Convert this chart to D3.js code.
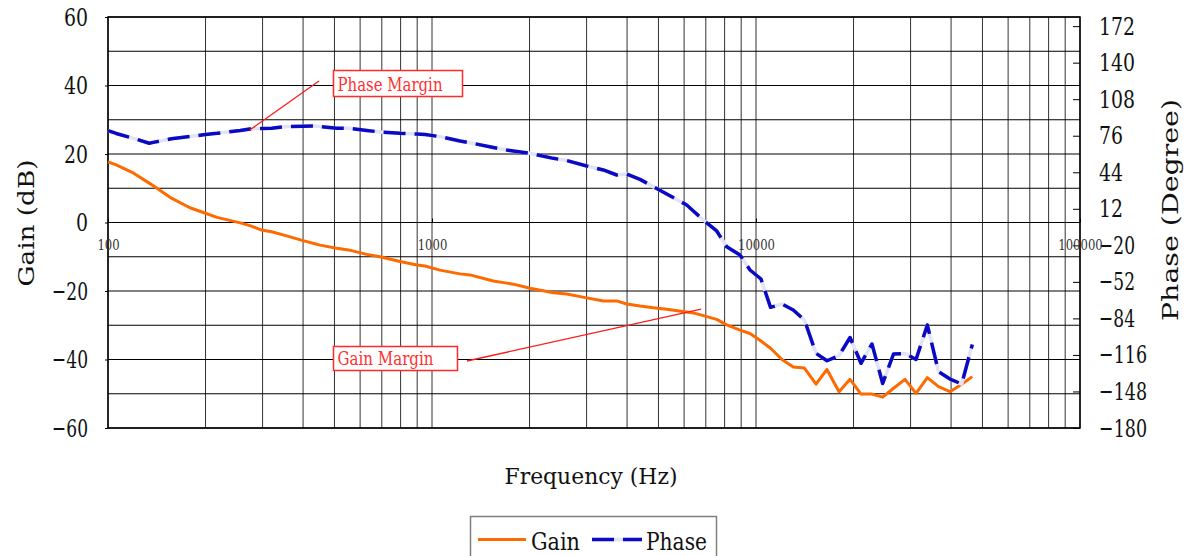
<!DOCTYPE html>
<html>
<head>
<meta charset="utf-8">
<script src="https://cdn.jsdelivr.net/npm/d3@7"></script>
<style>
  html, body { margin: 0; padding: 0; background: #fff; }
  svg { display: block; }
  text { font-family: "DejaVu Serif", "Liberation Serif", "Times New Roman", serif; }
</style>
</head>
<body>
<svg id="chart" width="1186" height="556"></svg>
<script>
// Measured frequency response: frequency (Hz), loop gain (dB), phase (degrees)
const freqHz = [100, 106, 120, 134, 138, 157, 179, 200, 217, 256, 274, 298, 320, 356, 400, 435, 451, 508, 552, 629,
  691, 797, 897, 952, 1058, 1220, 1310, 1546, 1701, 1782, 2007, 2368, 2605, 3003, 3379, 3716, 3990, 4385, 4819, 5302,
  6112, 6406, 6877, 7562, 8120, 8926, 9583, 10360, 11090, 12030, 13030, 14110, 15320, 16560, 18040, 19510, 21090,
  22800, 24600, 26570, 28840, 31180, 33790, 36590, 39700, 43140, 46520];

const gainDb = [17.7, 16.8, 14.4, 11.5, 10.7, 7.1, 4.3, 2.7, 1.5, -0.1, -0.9, -2.2, -2.7, -3.9, -5.3, -6.2, -6.6, -7.5, -8.0, -9.3,
  -10.0, -11.4, -12.4, -12.7, -13.9, -15.0, -15.3, -17.1, -17.7, -18.0, -19.2, -20.5, -20.9, -22.0, -22.9, -22.9, -23.8, -24.4, -24.9, -25.3,
  -26.1, -26.4, -27.2, -28.3, -29.9, -31.4, -32.4, -34.6, -36.7, -40.0, -42.2, -42.5, -47.2, -42.9, -49.4, -45.8, -50.1,
  -50.1, -51.0, -48.4, -45.8, -49.9, -45.3, -47.9, -49.4, -47.2, -45.0];

const phaseDeg = [80.4, 78.0, 73.7, 69.4, 70.2, 73.3, 75.3, 77.1, 78.1, 80.6, 81.9, 82.3, 82.5, 84.1, 84.3, 84.5, 84.1, 82.5, 82.5, 80.6,
  79.3, 78.1, 77.5, 77.1, 75.2, 71.4, 69.9, 65.7, 63.5, 62.6, 60.6, 56.2, 54.3, 49.5, 46.0, 41.6, 42.5, 37.8, 31.4, 25.0,
  15.3, 10.1, 2.2, -7.4, -21.2, -28.5, -41.6, -49.5, -74.3, -71.4, -76.6, -85.4, -114.6, -121.1, -116.5, -100.7, -123.3,
  -106.4, -141.0, -115.2, -114.7, -120.0, -89.8, -130.7, -137.1, -141.5, -106.9];

// Axis ticks
const gainTicks = [-60, -40, -20, 0, 20, 40, 60];
const phaseTicks = [-180, -148, -116, -84, -52, -20, 12, 44, 76, 108, 140, 172];
const freqTickLabels = [100, 1000, 10000, 100000];

// Annotation anchors on the curves
const phaseMarginAt = { f: 274, v: 81 };
const gainMarginAt = { f: 6770, v: -25.3 };

const FONT = '"DejaVu Serif", "Liberation Serif", "Times New Roman", serif';

const svg = d3.select("#chart");
const W = 1186, H = 556;
const plot = { left: 108, right: 1080, top: 17, bottom: 428 };

svg.append("rect").attr("width", W).attr("height", H).attr("fill", "#fff");

const x = d3.scaleLog().domain([100, 100000]).range([plot.left, plot.right]);
const yG = d3.scaleLinear().domain([-60, 60]).range([plot.bottom, plot.top]);
const yP = d3.scaleLinear().domain([-180, 180]).range([plot.bottom, plot.top]);

// Grid
const grid = svg.append("g").attr("stroke", "#000").attr("stroke-width", 1);
grid.selectAll("line.v").data(x.ticks()).join("line")
  .attr("x1", d => x(d)).attr("x2", d => x(d))
  .attr("y1", plot.top).attr("y2", plot.bottom)
  .attr("stroke", "#333");
grid.selectAll("line.h").data(d3.range(-60, 61, 10)).join("line")
  .attr("x1", plot.left).attr("x2", plot.right)
  .attr("y1", d => yG(d)).attr("y2", d => yG(d));

svg.append("rect")
  .attr("x", plot.left).attr("y", plot.top)
  .attr("width", plot.right - plot.left).attr("height", plot.bottom - plot.top)
  .attr("fill", "none").attr("stroke", "#000").attr("stroke-width", 1.5);

// Squeeze tick labels so that each digit is about half an em wide
function fitText(sel, perChar) {
  sel.each(function () {
    const t = d3.select(this);
    const n = t.text().length;
    t.attr("textLength", n * perChar).attr("lengthAdjust", "spacingAndGlyphs");
  });
}

// Left axis (gain)
const axL = svg.append("g").attr("transform", `translate(${plot.left},0)`)
  .call(d3.axisLeft(yG).tickValues(gainTicks).tickSize(3).tickPadding(17));
axL.select(".domain").remove();
axL.selectAll("text").attr("font-size", 25).attr("fill", "#111").style("font-family", FONT);
fitText(axL.selectAll("text"), 12);

// Right axis (phase), ticks pointing inward
const axR = svg.append("g").attr("transform", `translate(${plot.right},0)`)
  .call(d3.axisRight(yP).tickValues(phaseTicks).tickSize(-7).tickPadding(19));
axR.select(".domain").remove();
axR.selectAll("line").attr("stroke", "#000");
axR.selectAll("text").attr("font-size", 25).attr("fill", "#111").style("font-family", FONT);
fitText(axR.selectAll("text"), 12);

// Frequency axis labels along the 0 dB line
const axB = svg.append("g").attr("transform", `translate(0,${yG(0)})`)
  .call(d3.axisBottom(x).tickValues(freqTickLabels).tickFormat(d3.format("d")).tickSize(-4).tickPadding(17));
axB.select(".domain").remove();
axB.selectAll("text").attr("font-size", 15).attr("fill", "#333").style("font-family", FONT);
fitText(axB.selectAll("text"), 7.4);

// Axis titles
svg.append("text").attr("x", 591).attr("y", 484)
  .attr("text-anchor", "middle").attr("font-size", 23).attr("fill", "#111")
  .attr("textLength", 173).attr("lengthAdjust", "spacingAndGlyphs")
  .text("Frequency (Hz)");
svg.append("text").attr("transform", "translate(34,223) rotate(-90)")
  .attr("text-anchor", "middle").attr("font-size", 23).attr("fill", "#111")
  .attr("textLength", 127).attr("lengthAdjust", "spacingAndGlyphs")
  .text("Gain (dB)");
svg.append("text").attr("transform", "translate(1178,210) rotate(-90)")
  .attr("text-anchor", "middle").attr("font-size", 23).attr("fill", "#111")
  .attr("textLength", 222).attr("lengthAdjust", "spacingAndGlyphs")
  .text("Phase (Degree)");

// Curves
const pts = freqHz.map((f, i) => ({ f, g: gainDb[i], p: phaseDeg[i] }));
const gainLine = d3.line().x(d => x(d.f)).y(d => yG(d.g));
const phaseLine = d3.line().x(d => x(d.f)).y(d => yP(d.p));

const PHASE_DARK = "#0a0ac4", PHASE_LIGHT = "#e2e2f8", GAIN_COLOR = "#ff6a00";
const DASH = "22,9";

svg.append("path").datum(pts).attr("d", gainLine)
  .attr("fill", "none").attr("stroke", GAIN_COLOR).attr("stroke-width", 3)
  .attr("stroke-linejoin", "round");

svg.append("path").datum(pts).attr("d", phaseLine)
  .attr("fill", "none").attr("stroke", PHASE_LIGHT).attr("stroke-width", 3.5)
  .attr("stroke-linejoin", "round");
svg.append("path").datum(pts).attr("d", phaseLine)
  .attr("fill", "none").attr("stroke", PHASE_DARK).attr("stroke-width", 3.5)
  .attr("stroke-dasharray", DASH).attr("stroke-linejoin", "round");

// Annotations
function callout(label, box, anchor, from) {
  svg.append("line")
    .attr("x1", from[0]).attr("y1", from[1])
    .attr("x2", anchor[0]).attr("y2", anchor[1])
    .attr("stroke", "#ff1a1a").attr("stroke-width", 1.3);
  svg.append("rect").attr("x", box.x).attr("y", box.y)
    .attr("width", box.w).attr("height", box.h)
    .attr("fill", "#fff").attr("stroke", "#ff2a2a").attr("stroke-width", 1.5);
  svg.append("text").attr("x", box.x + 4).attr("y", box.y + box.h - 6)
    .attr("font-size", 19).attr("fill", "#ff3030")
    .attr("textLength", box.tl).attr("lengthAdjust", "spacingAndGlyphs")
    .text(label);
}
callout("Phase Margin", { x: 333.5, y: 70.5, w: 129, h: 26, tl: 105 },
  [x(phaseMarginAt.f), yP(phaseMarginAt.v)], [319, 81]);
callout("Gain Margin", { x: 333.5, y: 346.5, w: 124, h: 24, tl: 96 },
  [x(gainMarginAt.f), yG(gainMarginAt.v)], [467, 361]);

// Legend
const lg = svg.append("g");
lg.append("rect").attr("x", 470.5).attr("y", 516.5).attr("width", 246).attr("height", 60)
  .attr("fill", "#fff").attr("stroke", "#808080").attr("stroke-width", 1.5);
lg.append("line").attr("x1", 478).attr("x2", 526).attr("y1", 539.5).attr("y2", 539.5)
  .attr("stroke", GAIN_COLOR).attr("stroke-width", 3);
lg.append("text").attr("x", 531).attr("y", 550).attr("font-size", 25).attr("fill", "#111")
  .attr("textLength", 49).attr("lengthAdjust", "spacingAndGlyphs").text("Gain");
lg.append("line").attr("x1", 592).attr("x2", 642).attr("y1", 539.5).attr("y2", 539.5)
  .attr("stroke", PHASE_LIGHT).attr("stroke-width", 3.5);
lg.append("line").attr("x1", 592).attr("x2", 642).attr("y1", 539.5).attr("y2", 539.5)
  .attr("stroke", PHASE_DARK).attr("stroke-width", 3.5).attr("stroke-dasharray", DASH);
lg.append("text").attr("x", 646).attr("y", 550).attr("font-size", 25).attr("fill", "#111")
  .attr("textLength", 61).attr("lengthAdjust", "spacingAndGlyphs").text("Phase");
</script>
</body>
</html>
